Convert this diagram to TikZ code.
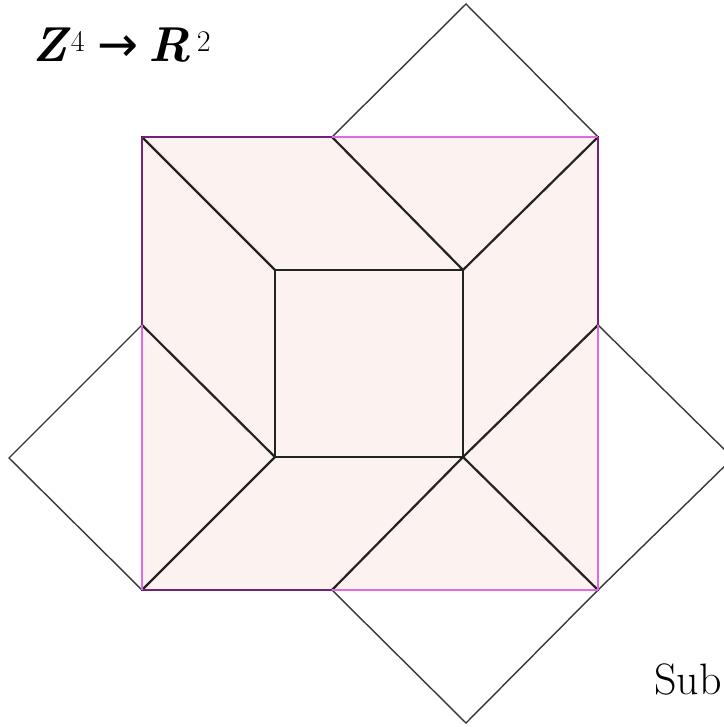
\documentclass[tikz,border=0pt]{standalone}
\usepackage{fontspec}
\newfontfamily\arrowfont{DejaVu Sans}
\definecolor{edgedark}{RGB}{115,35,115}
\definecolor{edgelight}{RGB}{225,105,230}
\definecolor{tilefill}{RGB}{252,242,240}
\definecolor{inkline}{RGB}{35,35,35}
\definecolor{thinline}{RGB}{55,55,55}
\tikzset{
  inner/.style={draw=inkline, line width=2.2pt, line cap=round},
  outer/.style={draw=thinline, line width=1.4pt, line join=miter},
  darkedge/.style={draw=edgedark, line width=2.2pt},
  lightedge/.style={draw=edgelight, line width=2.2pt},
  lbl/.style={inner sep=0pt, font=\fontsize{44}{50}\selectfont}
}
\newcommand{\supnum}[1]{\raisebox{10pt}{\fontsize{30}{32}\selectfont #1}}
\begin{document}
\begin{tikzpicture}[x=1pt,y=-1pt]
\useasboundingbox (0,0) rectangle (723,727);
% corners of the big square
\coordinate (A) at (142,137);
\coordinate (B) at (598,137);
\coordinate (C) at (598,590);
\coordinate (D) at (142,590);
% points on the edges
\coordinate (T) at (332,137);
\coordinate (Rt) at (598,325);
\coordinate (Bt) at (332,590);
\coordinate (L) at (142,325);
% inner square
\coordinate (P) at (275,270);
\coordinate (Q) at (463,270);
\coordinate (S) at (463,457);
\coordinate (U) at (275,457);
% diamond apexes
\coordinate (TA) at (466,4);
\coordinate (RA) at (733,458);
\coordinate (BA) at (466,723);
\coordinate (LA) at (9,458);

\fill[tilefill] (A) -- (B) -- (C) -- (D) -- cycle;

% outer diamonds
\draw[outer] (T) -- (TA) -- (B);
\draw[outer] (Rt) -- (RA) -- (C);
\draw[outer] (Bt) -- (BA) -- (C);
\draw[outer] (L) -- (LA) -- (D);

% inner lines
\draw[inner] (P) -- (Q) -- (S) -- (U) -- cycle;
\draw[inner] (A) -- (P);
\draw[inner] (T) -- (Q);
\draw[inner] (B) -- (Q);
\draw[inner] (Rt) -- (S);
\draw[inner] (C) -- (S);
\draw[inner] (Bt) -- (S);
\draw[inner] (D) -- (U);
\draw[inner] (L) -- (U);

% boundary of big square
\draw[darkedge] (A) -- (T);
\draw[lightedge] (T) -- (B);
\draw[darkedge] (B) -- (Rt);
\draw[lightedge] (Rt) -- (C);
\draw[lightedge] (C) -- (Bt);
\draw[darkedge] (Bt) -- (D);
\draw[lightedge] (D) -- (L);
\draw[darkedge] (L) -- (A);

% labels
\node[inner sep=0pt, anchor=base west, font=\fontsize{49}{52}\selectfont] (title) at (32,62)
  {{\bfseries\itshape Z}\kern4pt\supnum{4}\kern13pt{\arrowfont →}\kern10pt{\bfseries\itshape R}\kern6pt\supnum{2}};
\node[lbl, anchor=base west] (sub) at (654,694) {Sub};
\end{tikzpicture}
\end{document}
